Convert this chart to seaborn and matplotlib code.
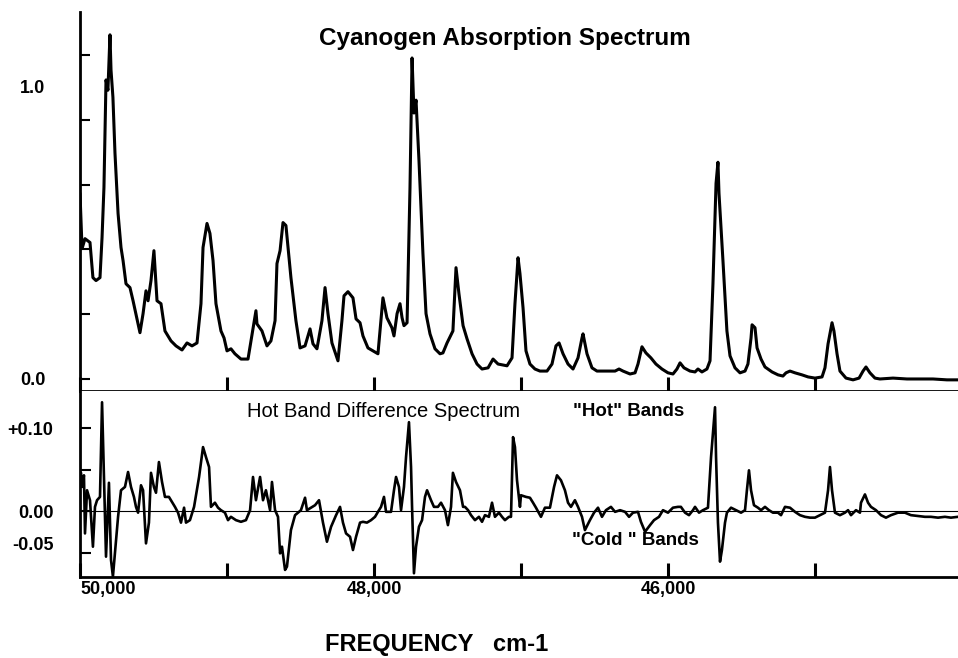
import matplotlib.pyplot as plt
import pandas as pd
import seaborn as sns
from matplotlib.transforms import ScaledTranslation

# Cyanogen absorption spectrum (top panel), frequency in cm-1
abs_freq = [50000, 49986, 49966, 49932, 49912, 49891, 49864, 49850, 49837, 49823,
            49810, 49796, 49789, 49776, 49762, 49741, 49721, 49707, 49687, 49660,
            49639, 49592, 49571, 49551, 49537, 49517, 49497, 49476, 49449, 49422,
            49381, 49347, 49306, 49272, 49238, 49204, 49177, 49163, 49136, 49116,
            49095, 49075, 49041, 49020, 49000, 48973, 48946, 48905, 48857, 48837,
            48803, 48796, 48762, 48728, 48701, 48673, 48660, 48639, 48619, 48599,
            48565, 48531, 48503, 48469, 48435, 48415, 48388, 48354, 48333, 48313,
            48286, 48245, 48218, 48204, 48177, 48143, 48122, 48095, 48075, 48041,
            48007, 47973, 47939, 47912, 47878, 47864, 47843, 47823, 47809, 47796,
            47775, 47755, 47741, 47728, 47714, 47694, 47667, 47646, 47619, 47585,
            47551, 47531, 47503, 47463, 47442, 47422, 47394, 47367, 47333, 47299,
            47265, 47224, 47190, 47156, 47095, 47061, 47041, 47020, 47007, 46986,
            46966, 46939, 46905, 46871, 46823, 46789, 46762, 46741, 46714, 46680,
            46646, 46612, 46585, 46578, 46551, 46517, 46483, 46442, 46360, 46333,
            46306, 46258, 46224, 46204, 46177, 46150, 46116, 46082, 46041, 46000,
            45966, 45939, 45918, 45891, 45850, 45816, 45796, 45769, 45735, 45714,
            45694, 45673, 45660, 45653, 45626, 45599, 45578, 45544, 45510, 45476,
            45456, 45435, 45428, 45408, 45394, 45367, 45340, 45292, 45251, 45218,
            45197, 45170, 45136, 45088, 45047, 45000, 44952, 44932, 44911, 44884,
            44871, 44850, 44830, 44789, 44741, 44700, 44673, 44653, 44626, 44592,
            44558, 44469, 44374, 44286, 44197, 44102, 44027]
abs_value = [0.634, 0.445, 0.479, 0.466, 0.346, 0.336, 0.346, 0.483, 0.654, 1.021,
             0.986, 1.175, 1.055, 0.962, 0.771, 0.565, 0.449, 0.404, 0.325, 0.312,
             0.267, 0.158, 0.223, 0.301, 0.267, 0.336, 0.438, 0.267, 0.257, 0.164,
             0.130, 0.113, 0.099, 0.123, 0.113, 0.123, 0.257, 0.449, 0.531, 0.497,
             0.404, 0.257, 0.164, 0.140, 0.096, 0.103, 0.086, 0.068, 0.068, 0.130,
             0.233, 0.188, 0.164, 0.113, 0.130, 0.199, 0.394, 0.438, 0.534, 0.524,
             0.346, 0.199, 0.106, 0.113, 0.171, 0.120, 0.103, 0.199, 0.312, 0.223,
             0.123, 0.062, 0.199, 0.284, 0.298, 0.277, 0.205, 0.192, 0.147, 0.106,
             0.096, 0.086, 0.277, 0.209, 0.175, 0.147, 0.223, 0.257, 0.209, 0.182,
             0.192, 0.654, 1.096, 0.908, 0.952, 0.747, 0.428, 0.223, 0.154, 0.103,
             0.086, 0.089, 0.123, 0.164, 0.380, 0.291, 0.182, 0.137, 0.086, 0.051,
             0.034, 0.038, 0.068, 0.051, 0.045, 0.072, 0.257, 0.414, 0.360, 0.243,
             0.096, 0.051, 0.034, 0.027, 0.027, 0.051, 0.113, 0.123, 0.086, 0.051,
             0.034, 0.072, 0.140, 0.154, 0.086, 0.038, 0.027, 0.027, 0.027, 0.034,
             0.027, 0.017, 0.021, 0.051, 0.110, 0.089, 0.072, 0.051, 0.034, 0.021,
             0.017, 0.034, 0.055, 0.038, 0.027, 0.024, 0.034, 0.024, 0.034, 0.062,
             0.325, 0.668, 0.740, 0.634, 0.404, 0.164, 0.079, 0.038, 0.021, 0.027,
             0.051, 0.140, 0.185, 0.175, 0.106, 0.068, 0.041, 0.024, 0.014, 0.010,
             0.021, 0.027, 0.021, 0.014, 0.007, 0.003, 0.007, 0.038, 0.120, 0.192,
             0.164, 0.086, 0.027, 0.003, -0.003, 0.003, 0.027, 0.041, 0.021, 0.003,
             0.000, 0.003, 0.000, 0.000, 0.000, -0.003, -0.003]

# Hot band difference spectrum (bottom panel)
diff_freq = [49993, 49986, 49973, 49966, 49952, 49932, 49912, 49898, 49884, 49864,
             49850, 49837, 49823, 49803, 49789, 49776, 49762, 49741, 49721, 49694,
             49673, 49653, 49633, 49619, 49605, 49585, 49571, 49551, 49531, 49517,
             49497, 49483, 49463, 49442, 49422, 49395, 49381, 49354, 49333, 49313,
             49292, 49279, 49252, 49224, 49190, 49163, 49143, 49122, 49109, 49082,
             49061, 49041, 49014, 48993, 48973, 48939, 48905, 48871, 48843, 48823,
             48803, 48775, 48755, 48735, 48707, 48694, 48673, 48653, 48639, 48626,
             48605, 48592, 48565, 48537, 48517, 48497, 48469, 48456, 48429, 48401,
             48374, 48347, 48320, 48292, 48258, 48231, 48211, 48190, 48163, 48143,
             48122, 48095, 48075, 48048, 48020, 47993, 47973, 47952, 47932, 47918,
             47884, 47864, 47850, 47830, 47816, 47796, 47782, 47762, 47748, 47741,
             47728, 47714, 47694, 47673, 47653, 47639, 47612, 47592, 47565, 47544,
             47517, 47497, 47476, 47463, 47442, 47415, 47394, 47381, 47360, 47340,
             47313, 47286, 47265, 47245, 47218, 47197, 47177, 47150, 47129, 47109,
             47082, 47068, 47054, 47041, 47027, 47007, 47000, 46966, 46939, 46918,
             46898, 46864, 46837, 46803, 46775, 46755, 46728, 46701, 46680, 46660,
             46633, 46612, 46585, 46565, 46531, 46503, 46476, 46449, 46422, 46388,
             46360, 46326, 46292, 46265, 46238, 46204, 46184, 46156, 46122, 46095,
             46061, 46034, 46000, 45966, 45932, 45912, 45884, 45857, 45830, 45816,
             45789, 45762, 45728, 45707, 45680, 45673, 45660, 45646, 45633, 45612,
             45599, 45571, 45537, 45503, 45476, 45463, 45449, 45435, 45415, 45388,
             45367, 45340, 45313, 45286, 45252, 45231, 45204, 45170, 45136, 45102,
             45068, 45034, 45000, 44966, 44932, 44911, 44898, 44884, 44864, 44830,
             44796, 44775, 44755, 44721, 44694, 44687, 44660, 44639, 44619, 44585,
             44551, 44517, 44483, 44435, 44388, 44347, 44299, 44252, 44211, 44163,
             44116, 44075, 44027]
diff_value = [0.046, 0.029, 0.043, -0.027, 0.025, 0.013, -0.043, 0.005, 0.013, 0.017,
              0.131, 0.041, -0.055, 0.034, -0.059, -0.079, -0.051, -0.007, 0.025, 0.029,
              0.047, 0.029, 0.017, 0.005, -0.002, 0.031, 0.025, -0.039, -0.014, 0.046,
              0.029, 0.022, 0.059, 0.035, 0.017, 0.017, 0.013, 0.005, -0.002, -0.014,
              0.004, -0.014, -0.011, 0.005, 0.041, 0.077, 0.065, 0.053, 0.005, 0.010,
              0.004, 0.001, -0.002, -0.011, -0.007, -0.011, -0.013, -0.011, 0.001, 0.041,
              0.013, 0.041, 0.013, 0.025, 0.001, 0.035, 0.001, -0.007, -0.051, -0.043,
              -0.071, -0.067, -0.023, -0.005, -0.002, 0.001, 0.016, 0.001, 0.004, 0.007,
              0.013, -0.014, -0.037, -0.019, -0.005, 0.005, -0.014, -0.027, -0.031, -0.047,
              -0.031, -0.014, -0.013, -0.014, -0.011, -0.007, -0.001, 0.005, 0.017, -0.001,
              -0.001, 0.025, 0.041, 0.029, 0.001, 0.029, 0.065, 0.107, 0.053, 0.005,
              -0.075, -0.043, -0.019, -0.011, 0.017, 0.025, 0.013, 0.005, 0.005, 0.010,
              0.001, -0.017, 0.005, 0.046, 0.035, 0.025, 0.005, 0.005, 0.001, -0.005,
              -0.011, -0.007, -0.013, -0.005, -0.007, 0.010, -0.007, -0.002, -0.007, -0.011,
              -0.007, -0.007, 0.089, 0.077, 0.037, 0.005, 0.019, 0.017, 0.016, 0.010,
              0.004, -0.007, 0.004, 0.004, 0.029, 0.043, 0.037, 0.025, 0.010, 0.005,
              0.013, 0.005, -0.007, -0.023, -0.011, -0.002, 0.004, -0.007, 0.001, 0.005,
              -0.001, 0.001, -0.001, -0.007, -0.002, -0.001, -0.013, -0.025, -0.017, -0.011,
              -0.007, 0.001, -0.002, 0.004, 0.005, 0.005, -0.002, -0.005, 0.001, 0.005,
              -0.002, 0.001, 0.004, 0.065, 0.125, 0.065, -0.014, -0.061, -0.047, -0.014,
              -0.002, 0.004, 0.001, -0.002, 0.001, 0.025, 0.049, 0.025, 0.007, 0.004,
              0.001, 0.005, 0.001, -0.002, -0.002, -0.005, 0.005, 0.004, -0.001, -0.005,
              -0.007, -0.008, -0.008, -0.005, -0.002, 0.025, 0.053, 0.025, -0.002, -0.005,
              -0.002, 0.001, -0.005, 0.001, -0.002, 0.010, 0.020, 0.010, 0.005, 0.001,
              -0.005, -0.008, -0.005, -0.002, -0.002, -0.005, -0.006, -0.007, -0.007, -0.008,
              -0.007, -0.008, -0.007]

freq_ticks = [50000, 49000, 48000, 47000, 46000, 45000]
freq_labels = ["50,000", "", "48,000", "", "46,000", ""]
abs_ticks = [0.0, 1.0]
abs_labels = ["0.0", "1.0"]
abs_marks = [0.223, 0.445, 0.661, 0.884, 1.106]
diff_ticks = [0.10, 0.05, 0.0, -0.05]
diff_labels = ["+0.10", "", "0.00", "-0.05"]

sns.set_style("ticks")
plt.rcParams["font.family"] = ["Liberation Sans", "DejaVu Sans"]
plt.rcParams["text.color"] = "black"
plt.rcParams["xtick.color"] = "black"
plt.rcParams["ytick.color"] = "black"

top_df = pd.DataFrame({"freq": abs_freq, "absorbance": abs_value})
bot_df = pd.DataFrame({"freq": diff_freq, "difference": diff_value})

fig = plt.figure(figsize=(9.58, 6.58), dpi=100)
ax_top = fig.add_axes([0.0835, 0.4058, 0.9165, 0.5760])
ax_bot = fig.add_axes([0.0835, 0.1231, 0.9165, 0.2827])

sns.lineplot(data=top_df, x="freq", y="absorbance", ax=ax_top, color="black",
             linewidth=2.2, estimator=None)
sns.lineplot(data=bot_df, x="freq", y="difference", ax=ax_bot, color="black",
             linewidth=1.9, estimator=None)
ax_bot.axhline(0, color="black", linewidth=0.8, zorder=1)

for ax in (ax_top, ax_bot):
    sns.despine(ax=ax)
    ax.set_xlim(50000, 44027)
    ax.set_xlabel("")
    ax.set_ylabel("")
    for side in ("left", "bottom"):
        ax.spines[side].set_color("black")
        ax.spines[side].set_linewidth(2.0)
    ax.set_xticks(freq_ticks)
    ax.tick_params(axis="x", direction="in", length=10, width=2.2, colors="black")

ax_top.set_ylim(-0.041, 1.253)
ax_bot.set_ylim(-0.0795, 0.1446)

# top panel: labelled 0.0 and 1.0, plain tick marks in between
ax_top.set_xticklabels([])
ax_top.set_yticks(abs_ticks)
ax_top.set_yticklabels(abs_labels, fontweight="bold", fontsize=13)
ax_top.set_yticks(abs_marks, minor=True)
ax_top.tick_params(axis="y", which="both", direction="in", length=7, width=1.5,
                   colors="black", pad=25)
ax_top.yaxis.get_major_ticks()[1].tick1line.set_visible(False)

ax_bot.set_xticklabels(freq_labels, fontweight="bold", fontsize=13)
ax_bot.get_xticklabels()[0].set_horizontalalignment("left")
ax_bot.tick_params(axis="x", pad=3)
ax_bot.set_yticks(diff_ticks)
ax_bot.set_yticklabels(diff_labels, fontweight="bold", fontsize=13)
ax_bot.tick_params(axis="y", direction="in", length=8, width=1.5, colors="black",
                   pad=19)
# the -0.05 label sits a little above its tick in the original
low_label = ax_bot.yaxis.get_major_ticks()[3].label1
low_label.set_transform(low_label.get_transform()
                        + ScaledTranslation(0, 0.09, fig.dpi_scale_trans))

fig.text(0.527, 0.942, "Cyanogen Absorption Spectrum", ha="center", va="center",
         fontsize=17.5, fontweight="bold")
fig.text(0.258, 0.374, "Hot Band Difference Spectrum", ha="left", va="center",
         fontsize=14.5)
fig.text(0.598, 0.374, '"Hot" Bands', ha="left", va="center", fontsize=13.5,
         fontweight="bold")
fig.text(0.597, 0.179, '"Cold " Bands', ha="left", va="center", fontsize=13.5,
         fontweight="bold")
fig.text(0.339, 0.020, "FREQUENCY   cm-1", ha="left", va="center", fontsize=17,
         fontweight="bold")

fig.savefig("out.png", dpi=100)
